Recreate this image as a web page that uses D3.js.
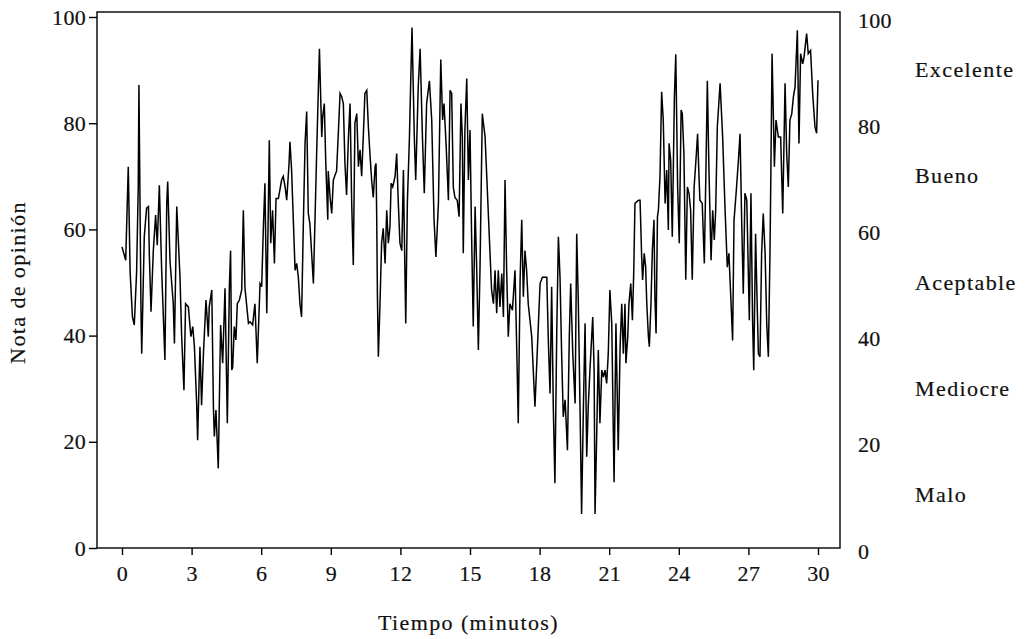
<!DOCTYPE html>
<html>
<head>
    <meta charset="utf-8">
    <title>Nota de opinión</title>
    <style>
        body { margin: 0; background: #fff; }
        text { font-family: "Liberation Serif", "Times New Roman", serif; fill: #111; stroke: #111; stroke-width: 0.2px; }
        .frame { fill: none; stroke: #000; stroke-width: 1.4px; }
        .tick line { stroke: #000; stroke-width: 1.4px; }
        .tick text { font-size: 22px; letter-spacing: 0.3px; }
        .serie { fill: none; stroke: #000; stroke-width: 1.5px; stroke-linejoin: miter; }
        .titulo, .nivel { font-size: 22px; letter-spacing: 1.4px; }
    </style>
</head>
<body>
    <div class="viz"></div>
    <script src="https://cdnjs.cloudflare.com/ajax/libs/d3/7.8.5/d3.min.js"></script>
    <script type="text/javascript">
        // tiempo en minutos y nota
        var minutos = [
            0.00, 0.16, 0.27, 0.35, 0.45, 0.53, 0.63, 0.70, 0.73, 0.82, 0.85, 0.96, 1.06, 1.14, 1.18, 1.25, 1.35, 1.45, 1.52, 1.61,
            1.71, 1.85, 1.93, 1.97, 2.07, 2.21, 2.26, 2.36, 2.50, 2.57, 2.67, 2.74, 2.86, 2.97, 3.05, 3.12, 3.22, 3.26,
            3.36, 3.43, 3.51, 3.62, 3.72, 3.76, 3.87, 3.94, 3.98, 4.05, 4.15, 4.25, 4.34, 4.44, 4.54, 4.63, 4.68, 4.73, 4.77, 4.84,
            4.91, 4.97, 5.06, 5.16, 5.23, 5.30, 5.45, 5.52, 5.63, 5.73, 5.83, 5.95, 6.02, 6.09, 6.16, 6.24, 6.35, 6.41, 6.49, 6.57,
            6.64, 6.74, 6.88, 6.95,
            7.03, 7.10, 7.20, 7.24, 7.31, 7.39, 7.46, 7.53, 7.60, 7.67, 7.74, 7.82, 7.89, 7.96, 8.03, 8.10, 8.25, 8.39, 8.51, 8.61,
            8.65, 8.72, 8.78, 8.87, 8.89, 8.97, 9.04, 9.11, 9.18, 9.25, 9.33, 9.40, 9.47, 9.54, 9.61, 9.68, 9.76, 9.83, 9.90, 9.97,
            10.04, 10.12, 10.19, 10.26, 10.33, 10.40, 10.47, 10.55, 10.62,
            10.69, 10.76, 10.83, 10.91, 10.95, 10.98, 11.01, 11.05, 11.12, 11.19, 11.26, 11.34, 11.41, 11.48, 11.55, 11.60, 11.67,
            11.77, 11.84, 11.91, 11.98, 12.06, 12.13, 12.17, 12.23, 12.30, 12.39, 12.44, 12.50, 12.60, 12.66, 12.77, 12.85, 12.95,
            13.03, 13.13, 13.25, 13.35, 13.45, 13.53, 13.64, 13.74, 13.82, 13.88, 13.97, 14.07, 14.14, 14.21, 14.28, 14.35, 14.45,
            14.53, 14.61, 14.67, 14.71, 14.78, 14.86, 14.93, 15.00, 15.07, 15.14, 15.22, 15.29, 15.36, 15.43, 15.53, 15.65, 15.79,
            15.93, 16.01, 16.08, 16.15, 16.22, 16.29, 16.37, 16.44, 16.51, 16.58, 16.65, 16.72, 16.83, 16.94, 17.01, 17.08, 17.16,
            17.23, 17.30, 17.37, 17.44, 17.51, 17.66, 17.80, 17.95, 18.02, 18.12, 18.23,
            18.31, 18.38, 18.45, 18.52, 18.59, 18.66, 18.74, 18.81, 18.88, 18.95, 19.02, 19.10, 19.20, 19.28, 19.34, 19.43, 19.53,
            19.60, 19.67, 19.74, 19.81, 19.89, 19.96, 20.03, 20.10, 20.17, 20.29, 20.35, 20.39, 20.46, 20.53, 20.60, 20.68, 20.75,
            20.82, 20.89, 20.96, 21.03, 21.11, 21.21, 21.29, 21.39, 21.47, 21.54, 21.61, 21.68,
            21.72, 21.80, 21.85, 21.93, 22.00, 22.06, 22.11, 22.26, 22.33, 22.40, 22.44, 22.51, 22.57, 22.62, 22.69, 22.73, 22.80,
            22.86, 22.93, 22.97, 23.02, 23.08, 23.12, 23.19, 23.26, 23.33, 23.41, 23.48, 23.55, 23.58, 23.65, 23.72, 23.81, 23.87,
            23.95, 24.02, 24.10, 24.15, 24.22, 24.30, 24.37, 24.44, 24.51, 24.58, 24.66, 24.73, 24.81, 24.87, 24.91, 25.01, 25.10,
            25.17, 25.23, 25.30, 25.39,
            25.46, 25.53, 25.59, 25.66, 25.78, 25.89, 25.99, 26.09, 26.16, 26.24, 26.32, 26.38, 26.47, 26.57, 26.64, 26.71, 26.78,
            26.85, 26.93, 27.04, 27.11, 27.18, 27.23, 27.31, 27.36, 27.43, 27.50, 27.57, 27.64, 27.72, 27.79, 27.86, 27.93, 27.97,
            28.02, 28.08, 28.12, 28.19, 28.29, 28.39, 28.48, 28.58, 28.65, 28.72, 28.79, 28.87, 28.94, 29.01, 29.11, 29.18, 29.25,
            29.34, 29.40, 29.51, 29.58, 29.68, 29.77, 29.87, 29.94, 30.00
        ];
        var notas = [
            56.7, 54.2, 71.8, 52.0, 43.5, 42.0, 52.0, 68.0, 87.2, 44.0, 36.6, 58.6, 64.0, 64.3, 55.0, 44.5, 56.0, 62.7, 57.0, 68.3,
            52.3, 35.4, 65.0, 69.0, 54.0, 46.0, 38.5, 64.3, 51.0, 40.0, 29.7, 46.0, 45.4, 39.8, 41.7, 38.0, 27.0, 20.3,
            37.9, 26.9, 36.6, 46.7, 39.8, 45.4, 48.6, 26.6, 21.0, 26.0, 15.0, 42.0, 34.8, 48.9, 23.5, 49.5, 56.0, 33.5, 34.0, 41.7,
            39.2, 46.0, 46.7, 48.6, 63.6, 49.0, 42.3, 42.6, 42.0, 46.0, 34.8, 49.8, 49.2, 59.9, 68.7, 44.2, 76.8, 57.4, 63.6, 53.6,
            65.8, 65.8, 69.3, 70.0,
            68.0, 65.5, 72.4, 76.5, 71.2, 61.1, 52.3, 53.6, 51.0, 46.0, 43.5, 61.8, 76.2, 82.2, 63.0, 61.0, 49.8, 74.3, 94.0, 77.4,
            81.2, 83.7, 73.0, 61.8, 71.0, 66.0, 63.0, 69.3, 70.2, 71.0, 78.7, 85.6, 85.0, 83.7, 72.4, 66.5, 77.4, 83.7, 65.0, 53.3,
            80.0, 81.8, 71.8, 75.0, 70.0, 77.4, 85.6, 86.2, 79.3,
            74.0, 69.3, 66.0, 71.8, 72.4, 61.8, 47.3, 36.0, 46.0, 57.4, 60.2, 53.6, 63.6, 57.4, 60.5, 68.7, 68.0,
            70.0, 74.3, 65.0, 57.4, 56.0, 71.2, 59.2, 42.3, 65.0, 77.4, 86.9, 98.0, 77.4, 69.3, 87.0, 94.0, 77.4,
            66.8, 83.7, 88.0, 80.6, 61.8, 54.8, 65.0, 92.0, 80.6, 83.7, 76.0, 65.5, 86.2, 85.6, 68.0, 66.0, 65.5,
            62.4, 83.7, 77.4, 55.5, 78.7, 88.4, 69.3, 78.7, 58.6, 41.7, 64.3, 52.3, 37.3, 52.3, 81.8, 77.4, 63.0,
            48.6, 46.0, 52.3, 44.2, 52.3, 45.4, 51.7, 43.5, 69.3, 52.3, 39.8, 46.0, 44.8, 52.3, 38.5, 23.5, 50.5,
            61.8, 47.3, 56.0, 52.3, 46.0, 39.8, 26.6, 42.3, 49.8, 51.0, 51.0,
            51.0, 38.5, 29.1, 49.2, 26.6, 12.2, 41.0, 58.6, 51.0, 36.6, 24.7, 27.9, 18.4, 39.8, 49.8, 36.6, 27.2,
            59.2, 46.0, 27.2, 6.4, 27.0, 42.3, 17.2, 27.0, 33.5, 43.5, 33.5, 6.4, 21.0, 37.3, 23.5, 33.5, 32.2,
            33.5, 31.0, 36.6, 48.6, 42.3, 12.4, 42.3, 18.4, 37.9, 46.0, 36.6, 46.0,
            34.8, 39.8, 46.0, 49.8, 42.9, 52.3, 64.9, 65.5, 65.5, 54.8, 50.5, 55.5, 53.0, 46.0, 39.8, 37.9, 46.0,
            56.0, 61.8, 47.3, 40.4, 62.4, 63.6, 70.0, 85.9, 80.6, 64.9, 71.2, 59.9, 76.2, 73.0, 58.6, 85.0, 93.0,
            68.0, 57.4, 82.5, 81.8, 74.3, 50.5, 68.0, 66.8, 63.6, 50.5, 68.0, 72.4, 78.0, 70.0, 65.5, 64.9, 53.6,
            71.2, 88.0, 71.2, 54.2,
            63.6, 58.0, 63.6, 79.3, 87.5, 77.4, 64.2, 52.9, 55.5, 47.3, 39.1, 61.7, 66.8, 73.0, 78.0, 61.7, 47.9,
            66.8, 65.5, 42.9, 66.8, 42.9, 33.5, 59.2, 49.2, 36.6, 36.0, 55.5, 63.0, 55.5, 42.3, 36.0, 55.5, 71.2,
            93.1, 80.6, 71.8, 80.6, 77.4, 77.4, 63.0, 87.5, 74.3, 68.0, 80.6, 81.8, 85.0, 86.8, 97.5, 76.2, 93.1,
            91.2, 92.5, 96.9, 93.1, 93.7, 85.6, 79.3, 78.1, 88.1
        ];

        var ticksTiempo = [0, 3, 6, 9, 12, 15, 18, 21, 24, 27, 30];
        var ticksNota = [0, 20, 40, 60, 80, 100];
        var niveles = ["Excelente", "Bueno", "Aceptable", "Mediocre", "Malo"];
        var centroNivel = [90, 70, 50, 30, 10];

        var width = 1032, height = 639;
        var frame = {left: 97, right: 840, top: 12, bottom: 548};

        var svg = d3.select('.viz').append('svg')
            .attr('width', width)
            .attr('height', height);

        var x = d3.scaleLinear()
            .domain([0, 30])
            .range([122, 818]);

        var y = d3.scaleLinear()
            .domain([0, 100])
            .range([548, 17]);

        var datos = minutos.map(function (m, i) {
            return {t: m, v: notas[i]};
        });

        svg.append('path')
            .datum(datos)
            .attr('class', 'serie')
            .attr('d', d3.line()
                .x(function (d) { return x(d.t); })
                .y(function (d) { return y(d.v); }));

        svg.append('rect')
            .attr('class', 'frame')
            .attr('x', frame.left)
            .attr('y', frame.top)
            .attr('width', frame.right - frame.left)
            .attr('height', frame.bottom - frame.top);

        // eje x
        svg.append('g')
            .attr('transform', 'translate(0,' + frame.bottom + ')')
            .call(d3.axisBottom(x).tickValues(ticksTiempo).tickSize(7).tickPadding(10))
            .call(function (g) { g.select('.domain').remove(); });

        // eje y izquierdo
        svg.append('g')
            .attr('transform', 'translate(' + frame.left + ',0)')
            .call(d3.axisLeft(y).tickValues(ticksNota).tickSize(8).tickPadding(3))
            .call(function (g) { g.select('.domain').remove(); });

        // eje y derecho, solo numeros
        svg.append('g')
            .attr('transform', 'translate(' + frame.right + ',3)')
            .call(d3.axisRight(y).tickValues(ticksNota).tickSize(0).tickPadding(18))
            .call(function (g) { g.select('.domain').remove(); });

        svg.selectAll('.nivel')
            .data(niveles)
            .enter().append('text')
            .attr('class', 'nivel')
            .attr('x', 915)
            .attr('y', function (d, i) { return y(centroNivel[i]); })
            .attr('dy', '0.32em')
            .text(function (d) { return d; });

        svg.append('text')
            .attr('class', 'titulo')
            .attr('text-anchor', 'middle')
            .attr('x', (frame.left + frame.right) / 2)
            .attr('y', 630)
            .text('Tiempo (minutos)');

        svg.append('text')
            .attr('class', 'titulo')
            .attr('text-anchor', 'middle')
            .attr('transform', 'translate(25,' + y(50) + ')rotate(-90)')
            .text('Nota de opinión');
    </script>
</body>
</html>
